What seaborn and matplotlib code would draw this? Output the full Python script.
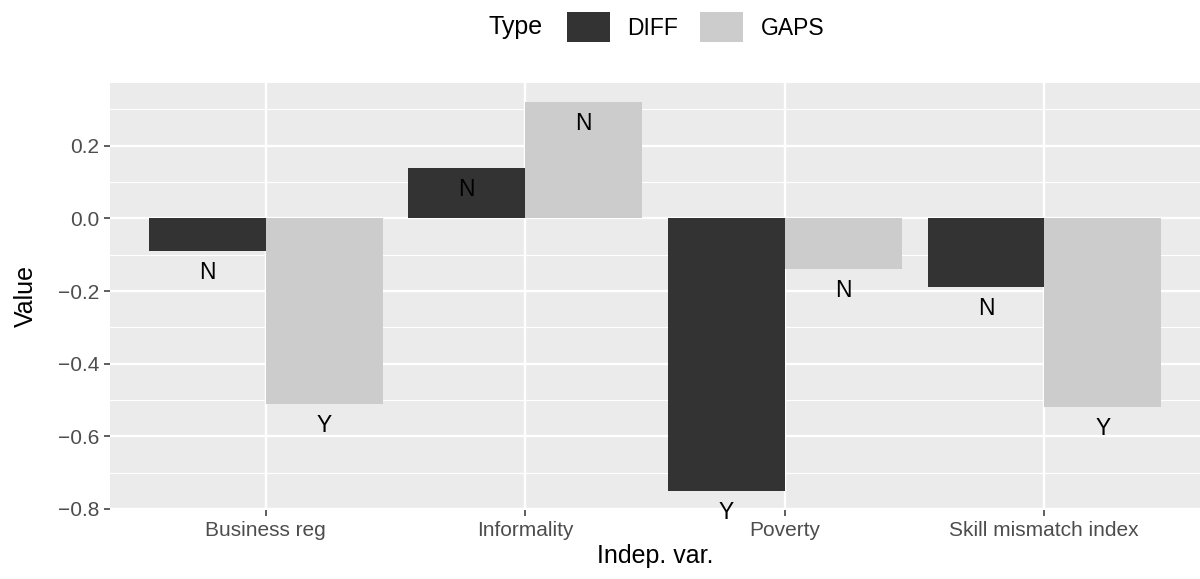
import seaborn as sns
import matplotlib.pyplot as plt
import pandas as pd
from matplotlib.patches import Patch
from matplotlib.ticker import MultipleLocator
from matplotlib import transforms

# Donnees
variables = ['Business reg', 'Informality', 'Poverty', 'Skill mismatch index']
diff_vals = [-0.09, 0.14, -0.75, -0.19]
gaps_vals = [-0.51, 0.32, -0.14, -0.52]
diff_sig = ['N', 'N', 'Y', 'N']
gaps_sig = ['Y', 'N', 'N', 'Y']

df = pd.DataFrame({
    'var': variables * 2,
    'Type': ['DIFF'] * 4 + ['GAPS'] * 4,
    'Value': diff_vals + gaps_vals,
    'sig': diff_sig + gaps_sig,
})

plt.rcParams['font.family'] = ['Liberation Sans', 'DejaVu Sans']
colors = {'DIFF': '#333333', 'GAPS': '#CCCCCC'}

fig = plt.figure(figsize=(12, 5.79), dpi=100)
ax = fig.add_axes([0.0917, 0.119, 0.9083, 0.738])
ax.set_facecolor('#EBEBEB')

sns.barplot(data=df, x='var', y='Value', hue='Type', order=variables,
            hue_order=['DIFF', 'GAPS'], palette=colors, width=0.9,
            linewidth=0, legend=False, ax=ax, zorder=3)

# etiquettes N / Y sous l'extremite de chaque barre
offset = transforms.offset_copy(ax.transData, fig=fig, x=0, y=-10, units='dots')
for i, t in enumerate(['DIFF', 'GAPS']):
    sub = df[df['Type'] == t]
    for j, (v, s) in enumerate(zip(sub['Value'], sub['sig'])):
        xpos = j + (-0.225 if i == 0 else 0.225)
        ax.text(xpos, v, s, ha='center', va='top', fontsize=16.5,
                color='black', transform=offset, zorder=4)

ax.set_xlim(-0.6, 3.6)
ax.set_ylim(-0.8035, 0.3735)
ax.yaxis.set_minor_locator(MultipleLocator(0.1))
ax.set_yticks([-0.8, -0.6, -0.4, -0.2, 0.0, 0.2])
ax.set_yticklabels(['\u22120.8', '\u22120.6', '\u22120.4', '\u22120.2', '0.0', '0.2'])
ax.grid(which='major', color='white', linewidth=1.7, zorder=0)
ax.grid(which='minor', axis='y', color='white', linewidth=0.85, zorder=0)
ax.set_axisbelow(True)
ax.tick_params(which='major', length=4, width=1.1, color='#333333',
               labelcolor='#4D4D4D', labelsize=15, pad=4)
ax.tick_params(which='minor', length=0)
for sp in ax.spines.values():
    sp.set_visible(False)

ax.set_xlabel('Indep. var.', fontsize=18, labelpad=3)
ax.set_ylabel('Value', fontsize=18, labelpad=14)

# legende en haut
handles = [Patch(facecolor=colors[t], edgecolor='none') for t in ['DIFF', 'GAPS']]
fig.text(0.4067, 0.953, 'Type', fontsize=18, ha='left', va='center')
fig.legend(handles, ['DIFF', 'GAPS'], loc='center left', bbox_to_anchor=(0.455, 0.953),
           ncol=2, frameon=False, fontsize=16.5, handlelength=1.88, handleheight=1.62,
           columnspacing=0.95, handletextpad=0.78)

fig.savefig('out.png', dpi=100)
